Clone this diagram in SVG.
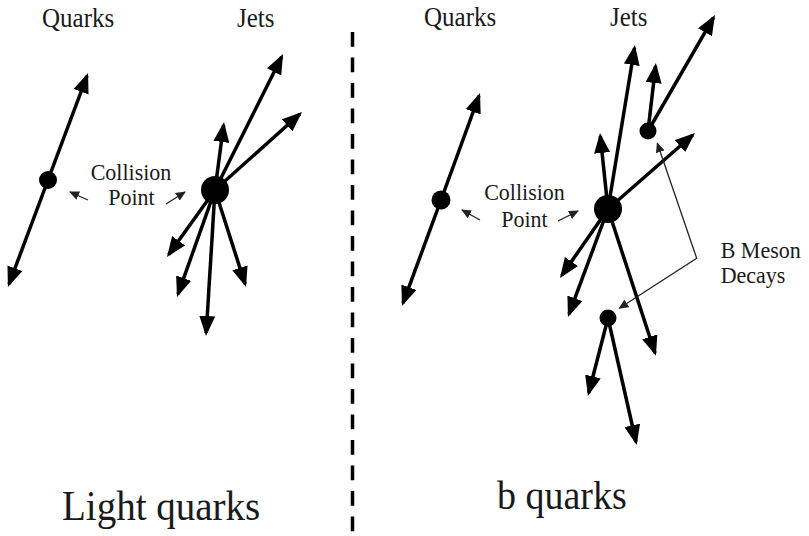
<svg xmlns="http://www.w3.org/2000/svg" width="809" height="536" viewBox="0 0 809 536">
<style>
.txt{font-family:"Liberation Serif","Times New Roman",serif;fill:#1a1a1a}
.ax{stroke:#000;stroke-width:3.5;fill:none;marker-end:url(#big)}
.thin{stroke:#222;stroke-width:1.3;fill:none}
.dot{fill:#000}
</style>
<defs>
<marker id="big" markerUnits="userSpaceOnUse" markerWidth="20" markerHeight="16" viewBox="0 0 20 16" refX="17" refY="8" orient="auto"><path d="M0,0 L20,8 L0,16 z" fill="#000"/></marker>
<marker id="sm" markerUnits="userSpaceOnUse" markerWidth="10" markerHeight="9" viewBox="0 0 10 9" refX="9" refY="4.5" orient="auto-start-reverse"><path d="M0,0 L10,4.5 L0,9 z" fill="#222"/></marker>
</defs>
<rect width="809" height="536" fill="#fff"/>
<line x1="352.5" y1="32" x2="352.5" y2="536" stroke="#000" stroke-width="3.5" stroke-dasharray="14.7 10.8"/>
<g id="connectors">
<line class="ax" x1="48" y1="180" x2="87" y2="75.8"/>
<line class="ax" x1="48" y1="180" x2="9" y2="284.2"/>
<line class="ax" x1="215" y1="190" x2="281.7" y2="56.7"/>
<line class="ax" x1="215" y1="190" x2="299.8" y2="114"/>
<line class="ax" x1="215" y1="190" x2="223.6" y2="125"/>
<line class="ax" x1="215" y1="190" x2="168.7" y2="254.6"/>
<line class="ax" x1="215" y1="190" x2="178" y2="294.2"/>
<line class="ax" x1="215" y1="190" x2="206.2" y2="333"/>
<line class="ax" x1="215" y1="190" x2="245.1" y2="284.1"/>
<line class="ax" x1="441" y1="200" x2="479" y2="95.8"/>
<line class="ax" x1="441" y1="200" x2="403" y2="303.2"/>
<line class="ax" x1="608" y1="209" x2="634.5" y2="48"/>
<line class="ax" x1="608" y1="209" x2="600.3" y2="136"/>
<line class="ax" x1="608" y1="209" x2="692.7" y2="135"/>
<line class="ax" x1="608" y1="209" x2="561.7" y2="275.5"/>
<line class="ax" x1="608" y1="209" x2="569" y2="314.2"/>
<line class="ax" x1="608" y1="209" x2="655" y2="353"/>
<line class="ax" x1="648" y1="131" x2="655.6" y2="66"/>
<line class="ax" x1="648" y1="131" x2="713.5" y2="17.6"/>
<line class="ax" x1="608" y1="318" x2="588.7" y2="393"/>
<line class="ax" x1="608" y1="318" x2="636" y2="442"/>
<line class="thin" x1="88" y1="200" x2="70" y2="192" marker-end="url(#sm)"/>
<line class="thin" x1="166" y1="204" x2="185" y2="192" marker-end="url(#sm)"/>
<line class="thin" x1="480" y1="220" x2="462" y2="210" marker-end="url(#sm)"/>
<line class="thin" x1="558" y1="221" x2="578" y2="211" marker-end="url(#sm)"/>
<polyline class="thin" points="657.3,143.3 696.7,258.3 619.3,308.3" marker-start="url(#sm)" marker-end="url(#sm)"/>
</g>
<g id="left-quark-vertex"><circle class="dot" cx="48" cy="180" r="9"/></g>
<g id="left-collision"><circle class="dot" cx="215" cy="190" r="14"/></g>
<g id="right-quark-vertex"><circle class="dot" cx="441" cy="200" r="9.5"/></g>
<g id="right-collision"><circle class="dot" cx="608" cy="209" r="14"/></g>
<g id="b-decay-1"><circle class="dot" cx="648" cy="131" r="8.5"/></g>
<g id="b-decay-2"><circle class="dot" cx="608" cy="318" r="8.5"/></g>
<g id="labels">
<text class="txt" font-size="25" transform="translate(42,27) scale(1,1.1)">Quarks</text>
<text class="txt" font-size="25" transform="translate(237,27) scale(1,1.1)">Jets</text>
<text class="txt" font-size="25" transform="translate(424,26) scale(1,1.1)">Quarks</text>
<text class="txt" font-size="25" transform="translate(610,26) scale(1,1.1)">Jets</text>
<text class="txt" font-size="22" text-anchor="middle" transform="translate(131,180) scale(1,1.05)">Collision</text>
<text class="txt" font-size="22" text-anchor="middle" transform="translate(131.5,205) scale(1,1.05)">Point</text>
<text class="txt" font-size="22" text-anchor="middle" transform="translate(524.5,199.5) scale(1,1.05)">Collision</text>
<text class="txt" font-size="22" text-anchor="middle" transform="translate(524.5,226.5) scale(1,1.05)">Point</text>
<text class="txt" font-size="22" transform="translate(720.7,258) scale(1,1.05)">B Meson</text>
<text class="txt" font-size="22" transform="translate(720.7,283) scale(1,1.05)">Decays</text>
<text class="txt" font-size="39" transform="translate(62,520) scale(1,1.08)">Light quarks</text>
<text class="txt" font-size="38" transform="translate(497,509) scale(1,1.08)">b quarks</text>
</g>
</svg>
